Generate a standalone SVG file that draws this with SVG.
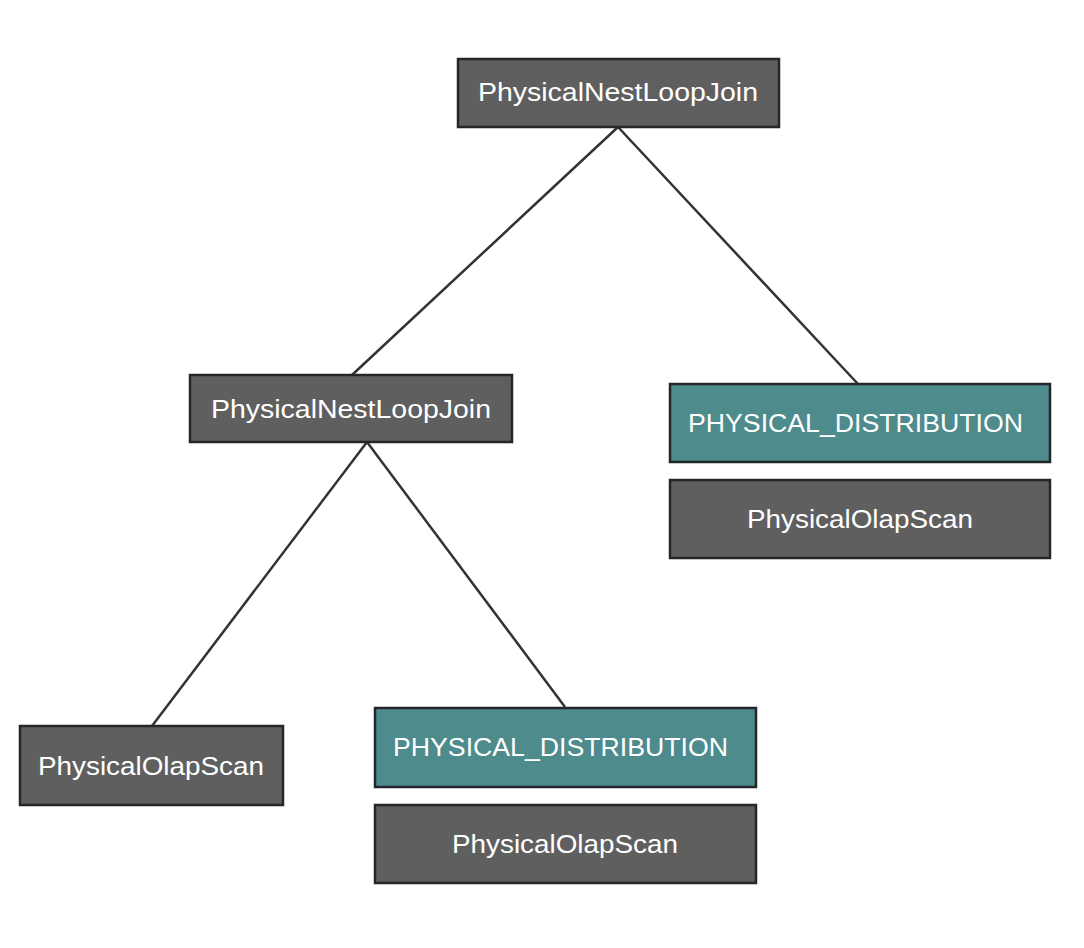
<svg xmlns="http://www.w3.org/2000/svg" width="1084" height="948" viewBox="0 0 1084 948">
<style>
.box{stroke:#23272b;stroke-width:2.5}
.gray{fill:#5f5f5f}
.teal{fill:#4e8b8c}
.t{fill:#ffffff;font-family:"Liberation Sans",Arial,sans-serif;font-size:26px}
.c{text-anchor:middle}
.edge{stroke:#333333;stroke-width:2.5;fill:none}
</style>
<rect width="1084" height="948" fill="#ffffff"/>
<g id="connectors">
<line class="edge" x1="618" y1="127" x2="352" y2="375"/>
<line class="edge" x1="618" y1="127" x2="858" y2="384"/>
<line class="edge" x1="367" y1="442" x2="152" y2="726"/>
<line class="edge" x1="367" y1="442" x2="565" y2="707"/>
</g>
<g id="join1">
<rect class="box gray" x="458" y="59" width="321" height="68"/>
<text class="t c" x="618" y="101" textLength="280" lengthAdjust="spacingAndGlyphs">PhysicalNestLoopJoin</text>
</g>
<g id="join2">
<rect class="box gray" x="190" y="375" width="322" height="67"/>
<text class="t c" x="351" y="418" textLength="280" lengthAdjust="spacingAndGlyphs">PhysicalNestLoopJoin</text>
</g>
<g id="dist1">
<rect class="box teal" x="670" y="384" width="380" height="78"/>
<text class="t" x="688" y="432" textLength="335" lengthAdjust="spacingAndGlyphs">PHYSICAL_DISTRIBUTION</text>
</g>
<g id="scan1">
<rect class="box gray" x="670" y="480" width="380" height="78"/>
<text class="t c" x="860" y="528" textLength="226" lengthAdjust="spacingAndGlyphs">PhysicalOlapScan</text>
</g>
<g id="scan2">
<rect class="box gray" x="20" y="726" width="263" height="79"/>
<text class="t c" x="151" y="775" textLength="226" lengthAdjust="spacingAndGlyphs">PhysicalOlapScan</text>
</g>
<g id="dist2">
<rect class="box teal" x="375" y="708" width="381" height="79"/>
<text class="t" x="393" y="756" textLength="335" lengthAdjust="spacingAndGlyphs">PHYSICAL_DISTRIBUTION</text>
</g>
<g id="scan3">
<rect class="box gray" x="375" y="805" width="381" height="78"/>
<text class="t c" x="565" y="853" textLength="226" lengthAdjust="spacingAndGlyphs">PhysicalOlapScan</text>
</g>
</svg>
